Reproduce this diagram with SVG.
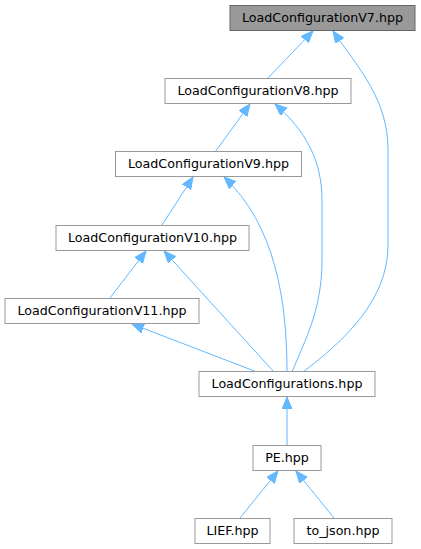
<svg xmlns="http://www.w3.org/2000/svg" width="421" height="549" viewBox="0 0 421 549">
<style>
.node rect{fill:#ffffff;stroke:#999999;stroke-width:1}
#n_v7 rect{fill:#999999;stroke:#666666}
.node text{font-family:"DejaVu Sans",sans-serif;font-size:12.67px;fill:#000000;text-anchor:middle}
#edges path{fill:none;stroke:#63b8ff;stroke-width:1;marker-end:url(#arr)}
</style>
<defs>
<marker id="arr" markerUnits="userSpaceOnUse" markerWidth="13" markerHeight="11" refX="12" refY="5" orient="auto" viewBox="0 0 13 11">
<path d="M0,0 L12,5 L0,10 z" fill="#63b8ff" stroke="#63b8ff" stroke-width="1"/>
</marker>
</defs>
<rect width="421" height="549" fill="#ffffff"/>
<g id="edges">
<path d="M268,78 L313,31"/>
<path d="M303,372 C345,340 388,300 388,245 L388,150 C388,100 360,70 333,31"/>
<path d="M215,152 L250,104"/>
<path d="M292,372 C305,340 322,310 322,260 L322,200 C322,160 305,130 275,104"/>
<path d="M162,225 L193,177"/>
<path d="M287,372 C287,300 275,225 224,177"/>
<path d="M110,298 L146,251"/>
<path d="M274,372 L164,251"/>
<path d="M257,372 L132,324"/>
<path d="M287,445 L287,397"/>
<path d="M240,518 L278,471"/>
<path d="M334,518 L296,471"/>
</g>
<g id="n_v7" class="node"><rect x="230" y="5.5" width="185" height="25"/><text x="322.5" y="22">LoadConfigurationV7.hpp</text></g>
<g id="n_v8" class="node"><rect x="165" y="78.5" width="186" height="25"/><text x="258" y="95">LoadConfigurationV8.hpp</text></g>
<g id="n_v9" class="node"><rect x="115.5" y="151.5" width="186" height="25"/><text x="208.5" y="168">LoadConfigurationV9.hpp</text></g>
<g id="n_v10" class="node"><rect x="56" y="225.5" width="193" height="25"/><text x="152.5" y="242">LoadConfigurationV10.hpp</text></g>
<g id="n_v11" class="node"><rect x="5" y="298.5" width="194" height="25"/><text x="102" y="315">LoadConfigurationV11.hpp</text></g>
<g id="n_lc" class="node"><rect x="199" y="371.5" width="176" height="25"/><text x="287" y="388">LoadConfigurations.hpp</text></g>
<g id="n_pe" class="node"><rect x="253" y="445.5" width="68" height="25"/><text x="287" y="462">PE.hpp</text></g>
<g id="n_lief" class="node"><rect x="195" y="518.5" width="75" height="25"/><text x="232.5" y="535">LIEF.hpp</text></g>
<g id="n_json" class="node"><rect x="294" y="518.5" width="98" height="25"/><text x="343" y="535">to_json.hpp</text></g>
</svg>
